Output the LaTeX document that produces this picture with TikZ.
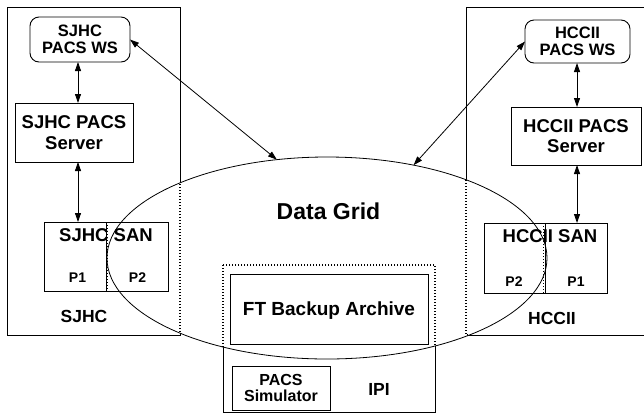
\documentclass[tikz,border=0pt]{standalone}
\usepackage{fontspec}
\setmainfont{Liberation Sans}
\usetikzlibrary{arrows.meta,shapes.geometric}
\begin{document}
\begin{tikzpicture}[x=1pt,y=-1pt,
  every node/.style={font=\bfseries},
  box/.style={draw, line width=0.9pt, inner sep=0pt, outer sep=0pt, align=center},
  wsbox/.style={box, rounded corners=9pt},
  lbl/.style={inner sep=0pt, outer sep=0pt, anchor=base},
  cont/.style={line width=0.9pt},
  dots/.style={line width=1.1pt, dash pattern=on 1pt off 2pt},
  arr/.style={line width=0.8pt, {Triangle[length=9pt,width=6pt]}-{Triangle[length=9pt,width=6pt]}},
  fws/.style={font=\bfseries\fontsize{16.5}{16.5}\selectfont},
  fsrv/.style={font=\bfseries\fontsize{18.5}{20.5}\selectfont},
  fp/.style={font=\bfseries\fontsize{14}{16}\selectfont},
  fsite/.style={font=\bfseries\fontsize{17.5}{19}\selectfont},
  fgrid/.style={font=\bfseries\fontsize{23}{25}\selectfont},
  fft/.style={font=\bfseries\fontsize{19}{21}\selectfont},
  fsim/.style={font=\bfseries\fontsize{16}{15.5}\selectfont},
]
\useasboundingbox (0,0) rectangle (644,413);

% site containers (solid parts)
\draw[cont] (7,7) rectangle (180,335);
\draw[cont] (644,7) -- (466,7) -- (466,335) -- (644,335);
\draw[cont] (223,265) rectangle (435,412);

% data grid ellipse
\node[ellipse, draw, fill=white, line width=0.8pt, minimum width=440pt, minimum height=202pt,
      inner sep=0pt, outer sep=0pt] (grid) at (327,258) {};

% dotted parts of containers inside the grid
\begin{scope}
  \clip (grid.center) ellipse [x radius=220, y radius=101];
  \draw[dots] (7,7) rectangle (180,335);
  \draw[dots] (644,7) -- (466,7) -- (466,335) -- (644,335);
  \draw[dots] (223,265) rectangle (435,412);
\end{scope}

% SJHC side
\node[wsbox, fws, minimum width=100pt, minimum height=45pt] (wsL) at (80,39.5) {SJHC\\PACS WS};
\node[box, fsrv, minimum width=118pt, minimum height=59pt] (srvL) at (74,132.5) {SJHC PACS\\Server};
\node[box, minimum width=124pt, minimum height=69pt] (sanL) at (106,256.5) {};
\draw[cont] (sanL.north) -- (sanL.south);
\draw[dots] ([xshift=1.6pt]sanL.north) -- ([xshift=1.6pt]sanL.south);
\node[lbl, fsrv] (sanLt) at (106,241) {SJHC SAN};
\node[lbl, fp] (p1L) at (77.5,282.5) {P1};
\node[lbl, fp] (p2L) at (137.5,282.5) {P2};
\node[lbl, fsite] (sjhc) at (84,322.5) {SJHC};

% HCCII side
\node[wsbox, fws, minimum width=105pt, minimum height=43pt] (wsR) at (577.5,41.5) {HCCII\\PACS WS};
\node[box, fsrv, minimum width=130pt, minimum height=58pt] (srvR) at (576,136) {HCCII PACS\\Server};
\node[box, minimum width=123pt, minimum height=70pt] (sanR) at (545.5,258) {};
\draw[cont] (sanR.north) -- (sanR.south);
\draw[dots] ([xshift=-1.6pt]sanR.north) -- ([xshift=-1.6pt]sanR.south);
\node[lbl, fsrv] (sanRt) at (550,242.5) {HCCII SAN};
\node[lbl, fp] (p2R) at (514,286) {P2};
\node[lbl, fp] (p1R) at (576,286) {P1};
\node[lbl, fsite] (hccii) at (552,324.5) {HCCII};

% center
\node[lbl, fgrid] (gridt) at (328.5,219.3) {Data Grid};
\node[box, minimum width=198pt, minimum height=70pt] (ft) at (329,309) {};
\node[lbl, fft] (ftt) at (329,315) {FT Backup Archive};
\node[box, fsim, minimum width=98pt, minimum height=44pt] (sim) at (281,388) {PACS\\Simulator};
\node[lbl, fsite] (ipi) at (379,395) {IPI};

% connectors
\coordinate (aL) at (78,0);
\coordinate (aR) at (577,0);
\draw[arr] (wsL.south -| aL) -- (srvL.north -| aL);
\draw[arr] (srvL.south -| aL) -- (sanL.north -| aL);
\draw[arr] (wsR.south -| aR) -- (srvR.north -| aR);
\draw[arr] (srvR.south -| aR) -- (sanR.north -| aR);
\draw[arr] (wsL.east) -- (grid.117);
\draw[arr] (wsR.west) -- (grid.47);
\end{tikzpicture}
\end{document}
